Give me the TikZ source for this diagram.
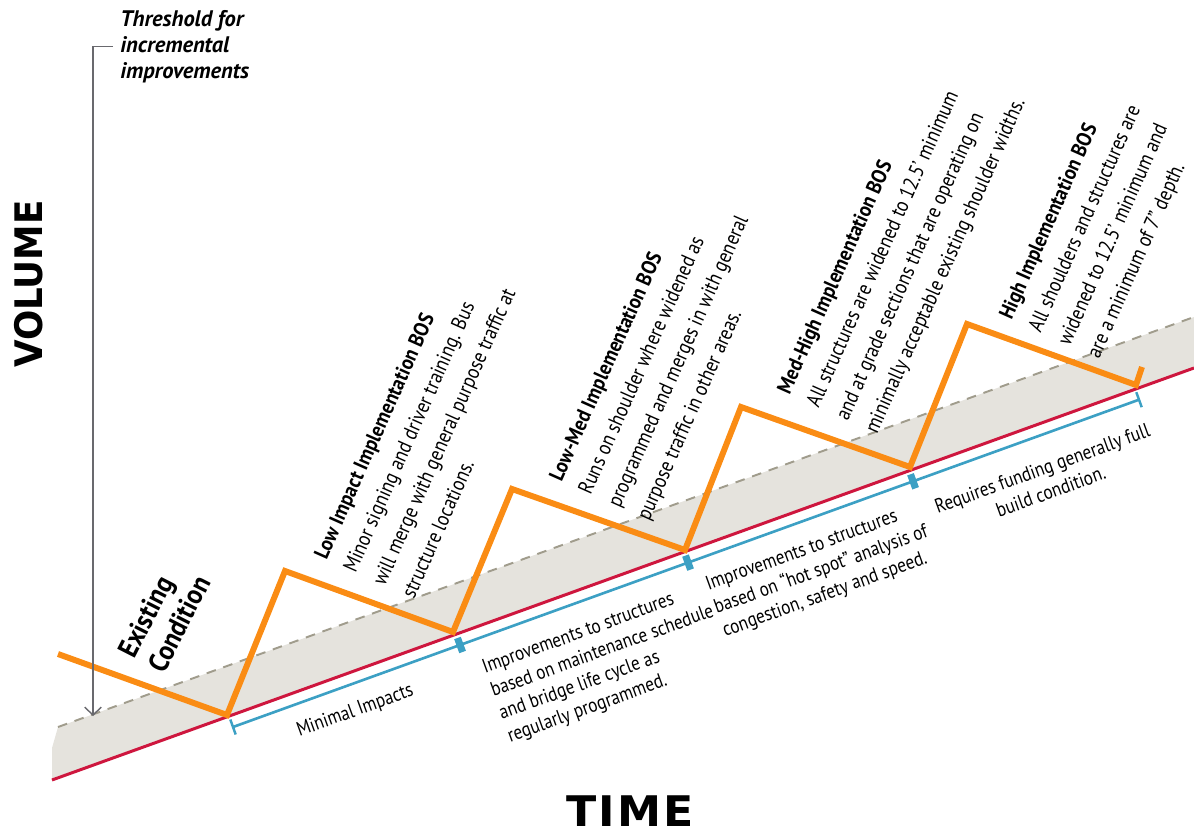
\documentclass[tikz,border=0pt]{standalone}
\usepackage{fontspec}
\setmainfont{PT Sans}[FakeStretch=0.86]
\newfontfamily\headfont{PT Sans}[FakeStretch=0.90]
\newfontfamily\thrfont{PT Sans}
\newfontfamily\axisfont{DejaVu Sans}[FakeStretch=0.94]
\newfontfamily\timefont{DejaVu Sans}[FakeStretch=1.05, LetterSpace=5]
\usetikzlibrary{arrows.meta}

\definecolor{zigorange}{RGB}{250,140,20}
\definecolor{floorred}{RGB}{206,22,62}
\definecolor{spanblue}{RGB}{60,160,196}
\definecolor{bandgray}{RGB}{229,227,221}
\definecolor{dashgray}{RGB}{160,156,140}
\definecolor{arrowgray}{RGB}{105,105,110}

\newcommand{\stagehead}[1]{{\headfont\bfseries #1}}

\tikzset{
  zigzag/.style={draw=zigorange, line width=3.4pt, line join=miter},
  floorline/.style={draw=floorred, line width=1.7pt},
  spanline/.style={draw=spanblue, line width=1.5pt},
  spantick/.style={draw=spanblue, line width=1.4pt},
  spanblock/.style={draw=spanblue, line width=4pt},
  threshdash/.style={draw=dashgray, line width=1.1pt, dash pattern=on 5.5pt off 4.5pt},
  threshline/.style={draw=arrowgray, line width=0.8pt, -{Straight Barb[length=4.5pt,width=9.5pt]}},
  stage/.style={rotate=66, anchor=base west, align=left, inner sep=0pt,
    font=\fontsize{12}{18.2}\selectfont},
  span/.style={rotate=20, anchor=base west, align=left, inner sep=0pt,
    font=\fontsize{11.4}{14}\selectfont},
  axis/.style={inner sep=0pt, font=\axisfont\bfseries\fontsize{21.6}{24}\selectfont}
}

\begin{document}
\begin{tikzpicture}[x=0.02cm, y=-0.02cm]
    \useasboundingbox (0,0) rectangle (1194,831);

    % band between the threshold and the existing condition
    \fill [bandgray] (58,727) -- (1194,317) -- (1194,368) -- (52,780) -- (52,748) -- cycle;
    \draw [threshdash] (58,727) -- (1194,317);
    \draw [floorline] (52,780) -- (1194,368);

    % spans under the floor line
    \draw [spanline] (233,727) -- (1139,399.7);
    \draw [spantick] (233,727) ++(-2.7,-7.5) -- ++(5.4,15);
    \draw [spantick] (1139,399.7) ++(-2.7,-7.5) -- ++(5.4,15);
    \foreach \tx/\ty in {460/645, 688/562.6, 913/481.3}
        \draw [spanblock] (\tx,\ty) ++(-2.5,-7) -- ++(5.1,14);

    % implementation steps
    \coordinate (start) at (58,654);
    \coordinate (v1) at (227,715);
    \coordinate (p1) at (285,571);
    \coordinate (v2) at (453,632);
    \coordinate (p2) at (512,489);
    \coordinate (v3) at (685,550);
    \coordinate (p3) at (741,407);
    \coordinate (v4) at (910,467);
    \coordinate (p4) at (967,324);
    \coordinate (v5) at (1136,385);
    \coordinate (finish) at (1142,367);
    \draw [zigzag] (start) -- (v1) -- (p1) -- (v2) -- (p2) -- (v3) -- (p3) -- (v4) -- (p4) -- (v5) -- (finish);

    % threshold marker
    \node [anchor=north west, inner sep=0pt, align=left,
        font=\thrfont\bfseries\itshape\fontsize{12.8}{14.8}\selectfont]
        (threshold) at (120,10) {Threshold for\\incremental\\improvements};
    \coordinate (floor) at (93,716);
    \draw [threshline] ([xshift=-0.14cm]threshold.west) -| (floor);

    % axes
    \node [axis, rotate=90] (volume) at (29,284) {VOLUME};
    \node [anchor=base, inner sep=0pt, font=\timefont\bfseries\fontsize{24}{26}\selectfont]
        (time) at (630,826) {TIME};

    % labels above the steps (anchored at the last line)
    \node [rotate=63, anchor=base west, align=left, inner sep=0pt,
        font=\headfont\bfseries\fontsize{16}{18.8}\selectfont]
        (existing) at (164,675) {Existing\\Condition};
    \node [stage] (lowimpact) at (414,600) {\stagehead{Low Impact Implementation BOS}\\
        Minor signing and driver training. Bus\\
        will merge with general purpose traffic at\\
        structure locations.};
    \node [stage] (lowmed) at (649,522) {\stagehead{Low-Med Implementation BOS}\\
        Runs on shoulder where widened as\\
        programmed and merges in with general\\
        purpose traffic in other areas.};
    \node [stage] (medhigh) at (877,435) {\stagehead{Med-High Implementation BOS}\\
        All structures are widened to 12.5' minimum\\
        and at grade sections that are operating on\\
        minimally acceptable existing shoulder widths.};
    \node [stage] (high) at (1099,360) {\stagehead{High Implementation BOS}\\
        All shoulders and structures are\\
        widened to 12.5' minimum and\\
        are a minimum of 7'' depth.};

    % labels below the spans
    \node [span, anchor=base] (minimal) at (357,716) {Minimal Impacts};
    \node [span] (maint) at (510,743) {Improvements to structures\\
        based on maintenance schedule\\
        and bridge life cycle as\\
        regularly programmed.};
    \node [span] (hotspot) at (725,637) {Improvements to structures\\
        based on ``hot spot'' analysis of\\
        congestion, safety and speed.};
    \node [span, anchor=base, align=center] (fullbuild) at (1053,498) {Requires funding generally full\\
        build condition.};
\end{tikzpicture}
\end{document}
